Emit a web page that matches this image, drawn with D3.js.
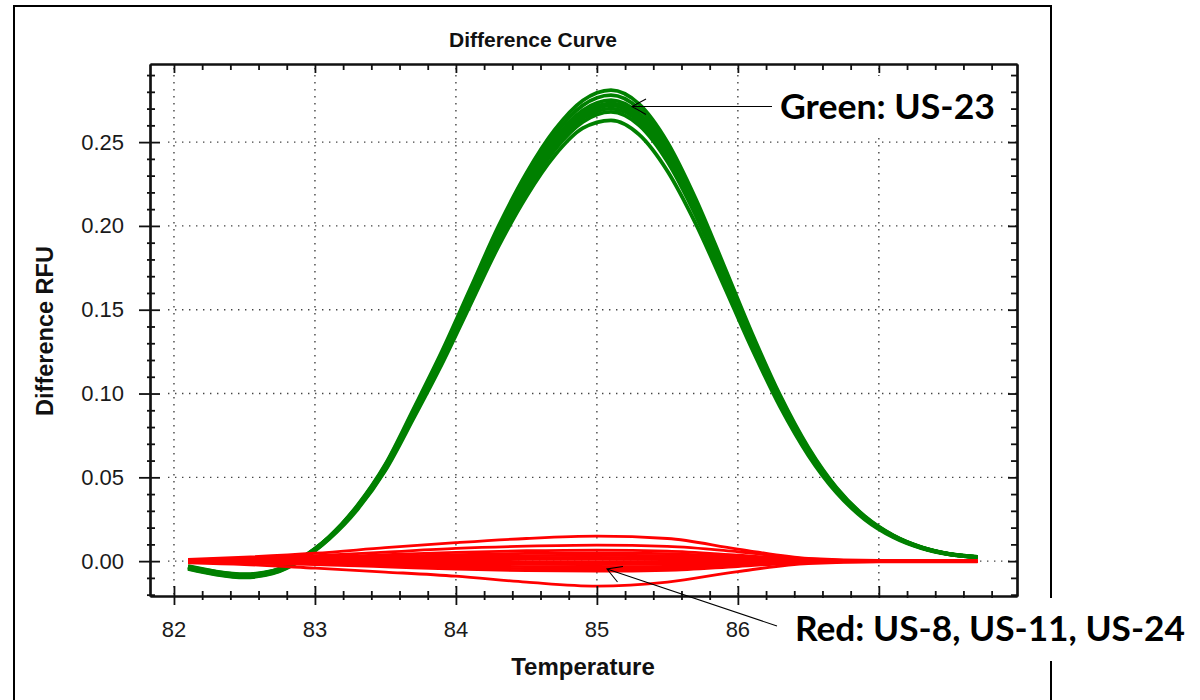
<!DOCTYPE html>
<html><head><meta charset="utf-8">
<script src="https://cdn.jsdelivr.net/npm/d3@7"></script>
<style>body{margin:0;background:#fff} svg{display:block}</style>
</head><body><svg id="c" width="1200" height="700"></svg>
<script>
// ---------- DATA ----------
const greenX = [82.1,82.3,82.5,82.7,82.9,83.1,83.3,83.5,83.7,83.9,84.1,84.3,84.5,84.7,84.9,85.1,85.3,85.5,85.7,85.9,86.1,86.3,86.5,86.7,86.9,87.1,87.3,87.5,87.7];
const greenA = [-0.0030,-0.0062,-0.0078,-0.0058,0.0018,0.0145,0.0331,0.0578,0.0909,0.1250,0.1622,0.1994,0.2314,0.2572,0.2748,0.2810,0.2727,0.2500,0.2164,0.1766,0.1360,0.0989,0.0678,0.0438,0.0268,0.0155,0.0084,0.0043,0.0025];
const greenB = [-0.0033,-0.0064,-0.0081,-0.0060,0.0016,0.0143,0.0327,0.0572,0.0899,0.1237,0.1605,0.1972,0.2289,0.2545,0.2719,0.2780,0.2698,0.2473,0.2141,0.1748,0.1346,0.0978,0.0670,0.0433,0.0265,0.0153,0.0083,0.0043,0.0025];
const greenC = [-0.0038,-0.0071,-0.0088,-0.0066,0.0012,0.0140,0.0322,0.0565,0.0890,0.1223,0.1587,0.1951,0.2265,0.2517,0.2689,0.2750,0.2669,0.2447,0.2118,0.1729,0.1331,0.0968,0.0663,0.0429,0.0262,0.0152,0.0082,0.0042,0.0024];
const greenD = [-0.0035,-0.0067,-0.0083,-0.0061,0.0015,0.0141,0.0321,0.0562,0.0884,0.1215,0.1576,0.1938,0.2249,0.2500,0.2671,0.2731,0.2651,0.2430,0.2103,0.1717,0.1322,0.0961,0.0659,0.0426,0.0260,0.0151,0.0081,0.0042,0.0024];
const greenE = [-0.0040,-0.0073,-0.0090,-0.0068,0.0010,0.0138,0.0318,0.0558,0.0878,0.1208,0.1568,0.1928,0.2238,0.2488,0.2658,0.2720,0.2640,0.2420,0.2095,0.1710,0.1317,0.0957,0.0656,0.0424,0.0259,0.0150,0.0081,0.0042,0.0024];
const greenF = [-0.0036,-0.0069,-0.0086,-0.0064,0.0013,0.0139,0.0318,0.0556,0.0874,0.1202,0.1559,0.1916,0.2224,0.2473,0.2641,0.2700,0.2622,0.2403,0.2080,0.1698,0.1308,0.0950,0.0651,0.0421,0.0257,0.0149,0.0080,0.0042,0.0024];
const greenG = [-0.0043,-0.0077,-0.0094,-0.0071,0.0008,0.0135,0.0313,0.0550,0.0866,0.1192,0.1546,0.1901,0.2206,0.2453,0.2620,0.2680,0.2600,0.2384,0.2064,0.1684,0.1297,0.0943,0.0646,0.0418,0.0255,0.0148,0.0080,0.0041,0.0024];
const greenH = [-0.0046,-0.0080,-0.0097,-0.0074,0.0005,0.0132,0.0307,0.0542,0.0853,0.1175,0.1526,0.1875,0.2176,0.2420,0.2583,0.2630,0.2545,0.2328,0.2015,0.1645,0.1267,0.0920,0.0631,0.0408,0.0249,0.0144,0.0078,0.0040,0.0023];

const redX = [82.1,82.5,83.0,83.5,84.0,84.5,85.0,85.5,86.0,86.5,87.0,87.7];
const red1  = [0.0010,0.0024,0.0047,0.0080,0.0110,0.0135,0.0149,0.0135,0.0072,0.0016,0.0004,0.0004];
const red2  = [0.0008,0.0016,0.0032,0.0054,0.0076,0.0089,0.0095,0.0088,0.0056,0.0014,0.0003,0.0003];
const red3  = [0.0006,0.0012,0.0023,0.0038,0.0052,0.0062,0.0066,0.0060,0.0036,0.0009,0.0002,0.0002];
const red4  = [0.0005,0.0009,0.0017,0.0028,0.0039,0.0046,0.0049,0.0045,0.0027,0.0007,0.0002,0.0002];
const red5  = [0.0003,0.0006,0.0012,0.0020,0.0028,0.0033,0.0035,0.0032,0.0019,0.0005,0.0001,0.0001];
const red6  = [0.0002,0.0004,0.0008,0.0013,0.0018,0.0021,0.0022,0.0020,0.0012,0.0003,0.0001,0.0001];
const red7  = [0.0001,0.0002,0.0004,0.0006,0.0008,0.0010,0.0010,0.0009,0.0005,0.0001,0.0000,0.0000];
const red8  = [0.0000,-0.0001,-0.0002,-0.0003,-0.0004,-0.0005,-0.0005,-0.0004,-0.0002,0.0000,0.0000,0.0000];
const red9  = [-0.0002,-0.0004,-0.0008,-0.0012,-0.0016,-0.0019,-0.0020,-0.0018,-0.0010,-0.0002,-0.0001,-0.0001];
const red10 = [-0.0003,-0.0006,-0.0012,-0.0020,-0.0028,-0.0033,-0.0035,-0.0032,-0.0018,-0.0004,-0.0001,-0.0001];
const red11 = [-0.0005,-0.0008,-0.0016,-0.0027,-0.0038,-0.0045,-0.0048,-0.0044,-0.0025,-0.0006,-0.0002,-0.0002];
const red12 = [-0.0007,-0.0011,-0.0021,-0.0034,-0.0048,-0.0057,-0.0060,-0.0055,-0.0032,-0.0008,-0.0003,-0.0003];
const red13 = [-0.0010,-0.0020,-0.0042,-0.0065,-0.0090,-0.0125,-0.0149,-0.0125,-0.0062,-0.0014,-0.0004,-0.0004];

const xMajorTicks = [82,83,84,85,86,87];
const xLabelTicks = [82,83,84,85,86];
const xTickLabels = ["82","83","84","85","86"];
const yMajorTicks = [0,0.05,0.10,0.15,0.20,0.25];
const yTickLabels = ["0.00","0.05","0.10","0.15","0.20","0.25"];
const titleText = "Difference Curve";
const xLabelText = "Temperature";
const yLabelText = "Difference RFU";
const greenNote = "Green: US-23";
const redNote = "Red: US-8, US-11, US-24";

// ---------- LAYOUT ----------
const svg = d3.select("#c");
const L = 150, R = 1017, T = 64, B = 596;
const x = d3.scaleLinear().domain([81.83, 87.98]).range([L, R]);
const y = d3.scaleLinear().domain([-0.0208, 0.2966]).range([B, T]);
const xMinor = d3.range(82.2, 87.9, 0.2).filter(v => Math.abs(v - Math.round(v)) > 0.05);
const yMinor = d3.range(-0.02, 0.2951, 0.01).filter(v => Math.abs(v*20 - Math.round(v*20)) > 0.05);

// outer frame
svg.append("rect").attr("x",14).attr("y",6).attr("width",1037).attr("height",720)
  .attr("fill","none").attr("stroke","#000").attr("stroke-width",2);

// grid
const grid = svg.append("g").attr("stroke","#444").attr("stroke-width",1.4)
  .attr("stroke-dasharray","1.4,5.6").attr("fill","none");
grid.selectAll("line.v").data(xMajorTicks).join("line")
  .attr("x1",d=>x(d)).attr("x2",d=>x(d)).attr("y1",T+4).attr("y2",B);
grid.selectAll("line.h").data(yMajorTicks).join("line").attr("class","h")
  .attr("x1",L+18).attr("x2",R).attr("y1",d=>y(d)).attr("y2",d=>y(d));

// curves
const greens = [greenA,greenB,greenC,greenD,greenE,greenF,greenG,greenH];
const reds = [red1,red2,red3,red4,red5,red6,red7,red8,red9,red10,red11,red12,red13];
const gLine = d3.line().x((d,i)=>x(greenX[i])).y(d=>y(d)).curve(d3.curveMonotoneX);
const rLine = d3.line().x((d,i)=>x(redX[i])).y(d=>y(d)).curve(d3.curveMonotoneX);
svg.append("g").selectAll("path").data(greens).join("path")
  .attr("d",gLine).attr("fill","none").attr("stroke","#008000").attr("stroke-width",3.8)
  .attr("stroke-linejoin","round");
svg.append("g").selectAll("path").data(reds).join("path")
  .attr("d",rLine).attr("fill","none").attr("stroke","#ff0000").attr("stroke-width",2.8);

// axes
function styleAxis(g){ g.select(".domain").attr("stroke","#111").attr("stroke-width",2.2);
  g.selectAll(".tick line").attr("stroke","#111").attr("stroke-width",1.8); g.selectAll("text").remove(); }
const axL = svg.append("g").attr("transform",`translate(${L},0)`)
  .call(d3.axisLeft(y).tickValues(yMajorTicks).tickSize(11).tickSizeOuter(0)).call(styleAxis);
axL.selectAll(".tick line").attr("x1",10);
const axLm = svg.append("g").attr("transform",`translate(${L},0)`)
  .call(d3.axisLeft(y).tickValues(yMinor).tickSize(3).tickSizeOuter(0)).call(styleAxis);
axLm.selectAll(".tick line").attr("x1",5);
svg.append("g").attr("transform",`translate(${R},0)`)
  .call(d3.axisLeft(y).tickValues(yMajorTicks).tickSize(9).tickSizeOuter(0)).call(styleAxis);
svg.append("g").attr("transform",`translate(${R},0)`)
  .call(d3.axisLeft(y).tickValues(yMinor).tickSize(6).tickSizeOuter(0)).call(styleAxis);
svg.append("g").attr("transform",`translate(0,${T})`)
  .call(d3.axisBottom(x).tickValues(xMajorTicks).tickSize(9).tickSizeOuter(0)).call(styleAxis);
svg.append("g").attr("transform",`translate(0,${T})`)
  .call(d3.axisBottom(x).tickValues(xMinor).tickSize(6).tickSizeOuter(0)).call(styleAxis);
const axB = svg.append("g").attr("transform",`translate(0,${B})`)
  .call(d3.axisBottom(x).tickValues(xMajorTicks).tickSize(9).tickSizeOuter(0)).call(styleAxis);
axB.selectAll(".tick line").attr("y1",-10);
const axBm = svg.append("g").attr("transform",`translate(0,${B})`)
  .call(d3.axisBottom(x).tickValues(xMinor).tickSize(4).tickSizeOuter(0)).call(styleAxis);
axBm.selectAll(".tick line").attr("y1",-5);

// tick labels
const font = "'Liberation Sans', Arial, sans-serif";
svg.append("g").selectAll("text").data(yMajorTicks).join("text")
  .attr("x",124).attr("y",d=>y(d)+7.5).attr("text-anchor","end")
  .attr("font-family",font).attr("font-size",22).attr("fill","#1a1a1a")
  .text((d,i)=>yTickLabels[i]);
svg.append("g").selectAll("text").data(xLabelTicks).join("text")
  .attr("x",d=>x(d)).attr("y",637).attr("text-anchor","middle")
  .attr("font-family",font).attr("font-size",22).attr("fill","#1a1a1a")
  .text((d,i)=>xTickLabels[i]);

// titles
svg.append("text").attr("x",533).attr("y",47).attr("text-anchor","middle")
  .attr("font-family",font).attr("font-weight","bold").attr("font-size",21).attr("fill","#111").text(titleText);
svg.append("text").attr("x",583).attr("y",675).attr("text-anchor","middle")
  .attr("font-family",font).attr("font-weight","bold").attr("font-size",24).attr("fill","#111").text(xLabelText);
svg.append("text").attr("transform","translate(53,331) rotate(-90)").attr("text-anchor","middle")
  .attr("font-family",font).attr("font-weight","bold").attr("font-size",23.5).attr("fill","#111").text(yLabelText);

// annotations
const noteFont = "Lato, 'Open Sans', sans-serif";
svg.append("rect").attr("x",773).attr("y",76).attr("width",230).attr("height",60).attr("fill","#fff");
svg.append("text").attr("x",780).attr("y",119).attr("font-family",noteFont).attr("font-weight","bold")
  .attr("font-size",35).attr("textLength",215).attr("lengthAdjust","spacingAndGlyphs").attr("fill","#000").text(greenNote);
svg.append("rect").attr("x",778).attr("y",598).attr("width",422).attr("height",63).attr("fill","#fff");
svg.append("text").attr("x",795).attr("y",641).attr("font-family",noteFont).attr("font-weight","bold")
  .attr("font-size",35).attr("textLength",390).attr("lengthAdjust","spacingAndGlyphs").attr("fill","#000").text(redNote);

const arrows = svg.append("g").attr("stroke","#000").attr("stroke-width",1.1).attr("fill","none");
arrows.append("path").attr("d","M772,106.5 L632,106.5 M646,99 L632,106.5 L646,114.5");
arrows.append("path").attr("d","M777,626 L607,569 M623,566.5 L607,569 L617.5,582");
</script></body></html>
